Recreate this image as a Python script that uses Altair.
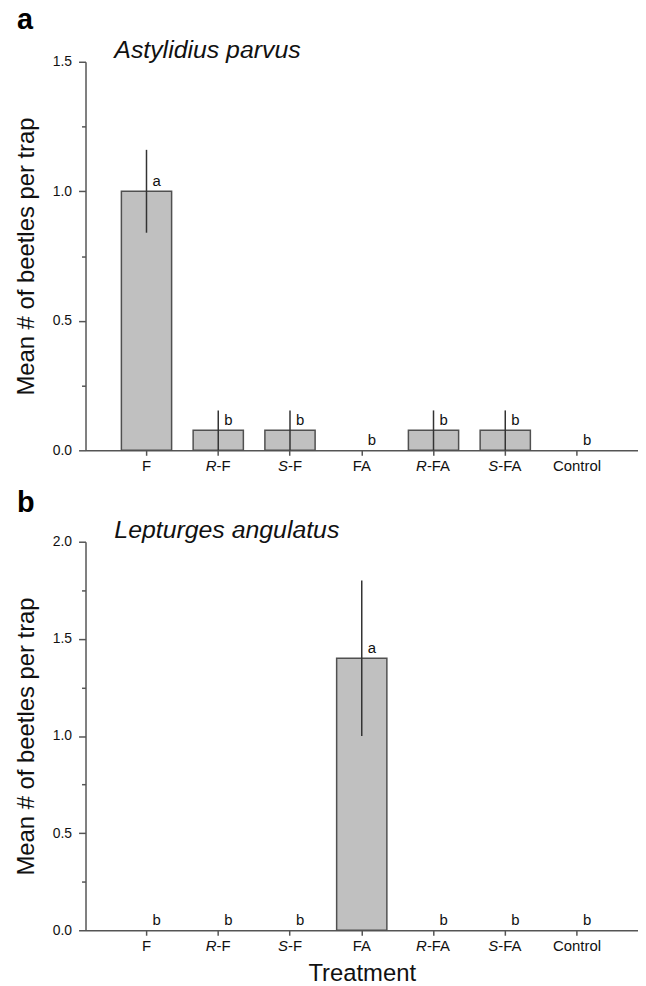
import altair as alt
import pandas as pd

# ---- data ----
treatments = ["F", "R-F", "S-F", "FA", "R-FA", "S-FA", "Control"]
label_prefix = ["", "R", "S", "", "R", "S", ""]        # italic part of label
label_suffix = ["F", "-F", "-F", "FA", "-FA", "-FA", "Control"]

means_a = [1.0, 0.077, 0.077, 0.0, 0.077, 0.077, 0.0]
se_a = [0.16, 0.077, 0.077, 0.0, 0.077, 0.077, 0.0]
letters_a = ["a", "b", "b", "b", "b", "b", "b"]

means_b = [0.0, 0.0, 0.0, 1.4, 0.0, 0.0, 0.0]
se_b = [0.0, 0.0, 0.0, 0.4, 0.0, 0.0, 0.0]
letters_b = ["b", "b", "b", "a", "b", "b", "b"]

y_ticks_a = [0.0, 0.25, 0.5, 0.75, 1.0, 1.25, 1.5]
y_ticks_b = [0.0, 0.25, 0.5, 0.75, 1.0, 1.25, 1.5, 1.75, 2.0]

titles = ["Astylidius parvus", "Lepturges angulatus"]
panel_letters = ["a", "b"]

FONT = "Liberation Sans"
W, H = 556, 391
LAB_FS = 15
AX = "#555555"

# approximate Arial/Liberation advance widths (em) for label splitting
CW = {"R": 0.722, "S": 0.667, "-": 0.333, "F": 0.611, "A": 0.667}


def tw(s):
    return sum(CW.get(c, 0.556) for c in s) * LAB_FS


def panel(means, se, letters, yticks, ymax, title, plet, show_xtitle, let_y):
    df = pd.DataFrame({
        "treatment": treatments,
        "mean": means,
        "se": se,
        "lo": [m - s for m, s in zip(means, se)],
        "hi": [m + s for m, s in zip(means, se)],
        "letter": letters,
        "prefix": label_prefix,
        "suffix": label_suffix,
    })
    xenc = alt.X(
        "treatment:N", sort=treatments,
        scale=alt.Scale(paddingInner=0.3, paddingOuter=0.5),
        axis=alt.Axis(labels=False, tickSize=5, tickWidth=1.5, tickColor=AX,
                      domainColor=AX, domainWidth=1.5,
                      title="Treatment" if show_xtitle else None,
                      titleFontSize=24, titleFontWeight="normal", titleColor="#111",
                      titlePadding=26),
    )
    yscale = alt.Scale(domain=[0, ymax], nice=False)
    yaxis = alt.Axis(
        values=yticks,
        labelExpr="datum.value % 0.5 == 0 ? format(datum.value, '.1f') : ''",
        tickSize={"condition": {"test": "datum.value % 0.5 == 0", "value": 7}, "value": 4},
        tickWidth=1.5, tickColor=AX, domainColor=AX, domainWidth=1.5,
        labelFontSize=14, labelColor="#111", labelPadding=7,
        title="Mean # of beetles per trap", titleFontSize=24,
        titleFontWeight="normal", titleColor="#111", titlePadding=14, grid=False,
    )
    base = alt.Chart(df)
    bars = base.transform_filter("datum.mean > 0").mark_bar(
        color="#c0c0c0", stroke="#505050", strokeWidth=1.5
    ).encode(x=xenc, y=alt.Y("mean:Q", scale=yscale, axis=yaxis))
    err = base.transform_filter("datum.se > 0").mark_rule(
        color="#333333", strokeWidth=1.5
    ).encode(x=alt.X("treatment:N", sort=treatments), y="lo:Q", y2="hi:Q")
    lets = base.mark_text(
        align="left", baseline="alphabetic", dx=6, dy=-5, fontSize=15, color="#111"
    ).encode(x=alt.X("treatment:N", sort=treatments), y="mean:Q", text="letter:N")

    layers = [bars, err, lets]
    # x tick labels (with italic R / S prefixes)
    ylab = alt.value(H + 20.5)
    plain = base.transform_filter("datum.prefix == ''").mark_text(
        align="center", baseline="alphabetic", fontSize=LAB_FS, color="#111"
    ).encode(x=alt.X("treatment:N", sort=treatments), y=ylab, text="suffix:N")
    layers.append(plain)
    for p, s, t in zip(label_prefix, label_suffix, treatments):
        if not p:
            continue
        split = -(tw(p) + tw(s)) / 2 + tw(p)
        sub = base.transform_filter(alt.datum.treatment == t)
        layers.append(sub.mark_text(
            align="right", baseline="alphabetic", fontSize=LAB_FS, fontStyle="italic",
            dx=split, color="#111"
        ).encode(x=alt.X("treatment:N", sort=treatments), y=ylab, text="prefix:N"))
        layers.append(sub.mark_text(
            align="left", baseline="alphabetic", fontSize=LAB_FS, dx=split, color="#111"
        ).encode(x=alt.X("treatment:N", sort=treatments), y=ylab, text="suffix:N"))

    tdf = pd.DataFrame({"t": [title], "p": [plet]})
    layers.append(alt.Chart(tdf).mark_text(
        align="left", baseline="alphabetic", fontSize=25, fontStyle="italic", color="#111"
    ).encode(x=alt.value(29), y=alt.value(-4), text="t:N"))
    layers.append(alt.Chart(tdf).mark_text(
        align="left", baseline="alphabetic", fontSize=29, fontWeight="bold", color="#000"
    ).encode(x=alt.value(-69), y=alt.value(let_y), text="p:N"))

    return alt.layer(*layers).properties(width=W, height=H)


top = panel(means_a, se_a, letters_a, y_ticks_a, 1.5, titles[0], panel_letters[0], False, -33)
bot = panel(means_b, se_b, letters_b, y_ticks_b, 2.0, titles[1], panel_letters[1], True, -30)

chart = alt.vconcat(top, bot, spacing=92, bounds="flush").properties(
    padding={"left": 6, "top": -5, "right": 0, "bottom": 0}
).configure(font=FONT).configure_view(stroke=None)

chart.save("out.html", embed_options={"renderer": "svg", "actions": False})
